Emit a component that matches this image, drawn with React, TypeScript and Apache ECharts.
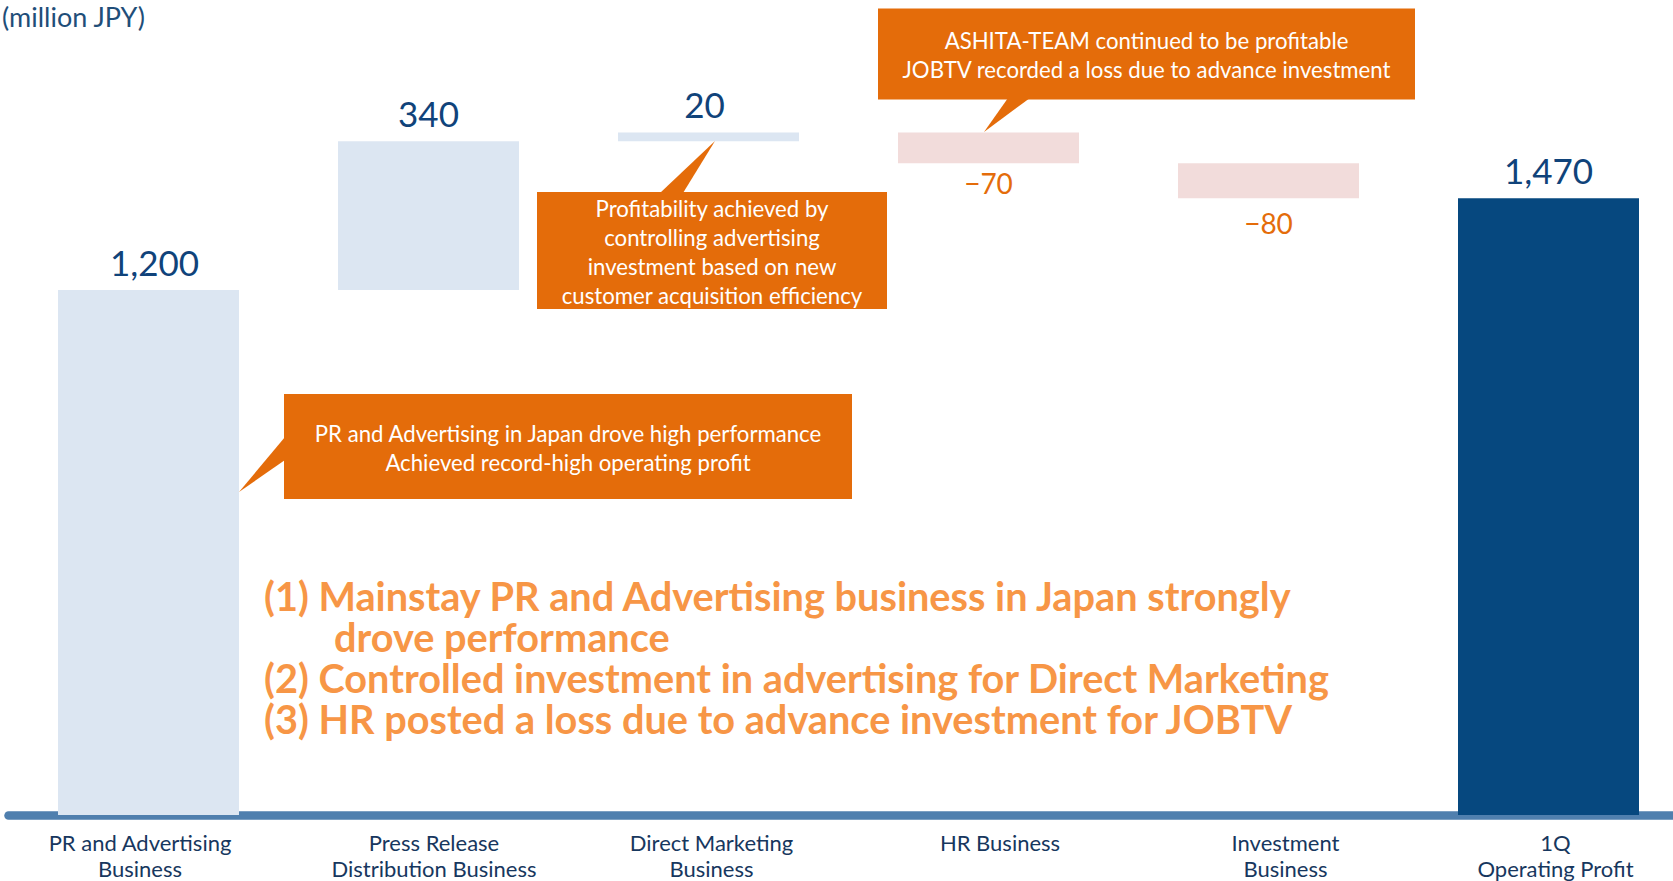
import React, { useEffect, useRef } from "react";
import * as echarts from "echarts";

const categories = [
  "PR and Advertising\nBusiness",
  "Press Release\nDistribution Business",
  "Direct Marketing\nBusiness",
  "HR Business",
  "Investment\nBusiness",
  "1Q\nOperating Profit",
];
// segment changes (million JPY)
const changes = [1200, 340, 20, -70, -80];
// height the 1Q total bar is drawn at in the reference
const totalBarValue = 1410;
const valueLabels = ["1,200", "340", "20", "\u221270", "\u221280", "1,470"];

const calloutTexts = [
  "PR and Advertising in Japan drove high performance\nAchieved record-high operating profit",
  "Profitability achieved by\ncontrolling advertising\ninvestment based on new\ncustomer acquisition efficiency",
  "ASHITA-TEAM continued to be profitable\nJOBTV recorded a loss due to advance investment",
];
const summaryLines = [
  "(1) Mainstay PR and Advertising business in Japan strongly",
  "drove performance",
  "(2) Controlled investment in advertising for Direct Marketing",
  "(3) HR posted a loss due to advance investment for JOBTV",
];
const unitLabel = "(million JPY)";

// horizontal shift (px) of each category label's text box from its tick, as placed in the slide
const categoryLabelShift = [-8.5, 5.5, 3, 11.5, 17, 7];

const FONT = "Lato, 'Open Sans', sans-serif";
const ORANGE = "#e46c0a";
const LIGHT_ORANGE = "#f79646";
const DARK_BLUE = "#10437a";
const NAVY_BAR = "#06487f";

export default function App() {
  const ref = useRef<HTMLDivElement>(null);

  useEffect(() => {
    if (!ref.current) return;
    const chart = echarts.init(ref.current, null, { renderer: "svg" });

    const base: number[] = [];
    const heights: number[] = [];
    let running = 0;
    changes.forEach((c) => {
      if (c >= 0) {
        base.push(running);
        heights.push(c);
        running += c;
      } else {
        running += c;
        base.push(running);
        heights.push(-c);
      }
    });
    base.push(0);
    heights.push(totalBarValue);

    const negDistance = [0, 0, 0, 6, 11];
    const visibleData = heights.map((h, i) => {
      const isTotal = i === heights.length - 1;
      const isNeg = !isTotal && changes[i] < 0;
      const item: any = {
        value: h,
        itemStyle: { color: isTotal ? NAVY_BAR : isNeg ? "#f2dcdb" : "#dce6f2" },
      };
      if (isNeg) {
        item.label = { position: "bottom", color: ORANGE, fontSize: 28, distance: negDistance[i] };
      }
      if (i === 0) item.label = { offset: [6, 0] };
      if (i === 2) item.label = { offset: [-4, 0] };
      return item;
    });

    const axisData = categories.map((c, i) => {
      const s = categoryLabelShift[i];
      return {
        value: c,
        textStyle: {
          padding: s >= 0 ? [0, 0, 0, 2 * s] : [0, -2 * s, 0, 0],
        },
      };
    });

    const txt = (x: number, y: number, text: string, extra: any) => ({
      type: "text",
      x,
      y,
      z: 10,
      style: {
        text,
        fontFamily: FONT,
        ...extra,
      },
    });

    const bigToken = {
      fontSize: 39.7,
      lineHeight: 41,
      fontWeight: "bold",
      fontFamily: FONT,
      fill: LIGHT_ORANGE,
    };
    const summaryText = [
      `{a|${summaryLines[0]}}`,
      `{b|${summaryLines[1]}}`,
      `{a|${summaryLines[2]}}`,
      `{a|${summaryLines[3]}}`,
    ].join("\n");

    const box = { fontSize: 22.2, lineHeight: 29, fill: "#fff", align: "center", verticalAlign: "middle" };

    const option: any = {
      animation: false,
      grid: {
        left: 8.5,
        top: 27.5,
        width: 1680,
        height: 787.5,
        containLabel: false,
        outerBoundsMode: "none",
      },
      xAxis: {
        type: "category",
        data: axisData,
        axisTick: { show: false },
        axisLine: { lineStyle: { color: "#4f7fae", width: 8.5 } },
        axisLabel: {
          color: "#17375e",
          fontSize: 22,
          lineHeight: 26,
          fontFamily: FONT,
          margin: 14,
          interval: 0,
        },
      },
      yAxis: {
        type: "value",
        min: 0,
        max: 1800,
        show: false,
        splitLine: { show: false },
      },
      series: [
        {
          type: "bar",
          stack: "w",
          data: base,
          barWidth: 181,
          itemStyle: { color: "transparent" },
          silent: true,
        },
        {
          type: "bar",
          stack: "w",
          data: visibleData,
          barWidth: 181,
          label: {
            show: true,
            position: "top",
            distance: 11,
            color: DARK_BLUE,
            fontSize: 35,
            fontFamily: FONT,
            formatter: (p: any) => valueLabels[p.dataIndex],
          },
        },
      ],
      graphic: [
        txt(2, 16, unitLabel, { fontSize: 27, fill: "#1f4e79", align: "left", verticalAlign: "middle" }),
        // callout 1
        { type: "rect", z: 9, shape: { x: 284, y: 394, width: 568, height: 105 }, style: { fill: ORANGE } },
        { type: "polygon", z: 9, shape: { points: [[285, 437], [239, 492], [285, 460]] }, style: { fill: ORANGE } },
        txt(568, 448, calloutTexts[0], box),
        // callout 2
        { type: "rect", z: 9, shape: { x: 537, y: 192, width: 350, height: 117 }, style: { fill: ORANGE } },
        { type: "polygon", z: 9, shape: { points: [[660, 193], [715, 141], [683, 193]] }, style: { fill: ORANGE } },
        txt(712, 252, calloutTexts[1], box),
        // callout 3
        { type: "rect", z: 9, shape: { x: 878, y: 8.5, width: 537, height: 91 }, style: { fill: ORANGE } },
        { type: "polygon", z: 9, shape: { points: [[1008, 98], [984, 132], [1030, 98]] }, style: { fill: ORANGE } },
        txt(1146.5, 55, calloutTexts[2], box),
        // summary text
        txt(264, 656.5, summaryText, {
          align: "left",
          verticalAlign: "middle",
          fill: LIGHT_ORANGE,
          fontSize: 39.7,
          fontWeight: "bold",
          lineHeight: 41,
          rich: {
            a: bigToken,
            b: { ...bigToken, padding: [0, 0, 0, 70] },
          },
        }),
      ],
    };

    chart.setOption(option);
    return () => chart.dispose();
  }, []);

  return (
    <div
      ref={ref}
      style={{ position: "fixed", left: 0, top: 0, width: 1673, height: 881, background: "#fff" }}
    />
  );
}
